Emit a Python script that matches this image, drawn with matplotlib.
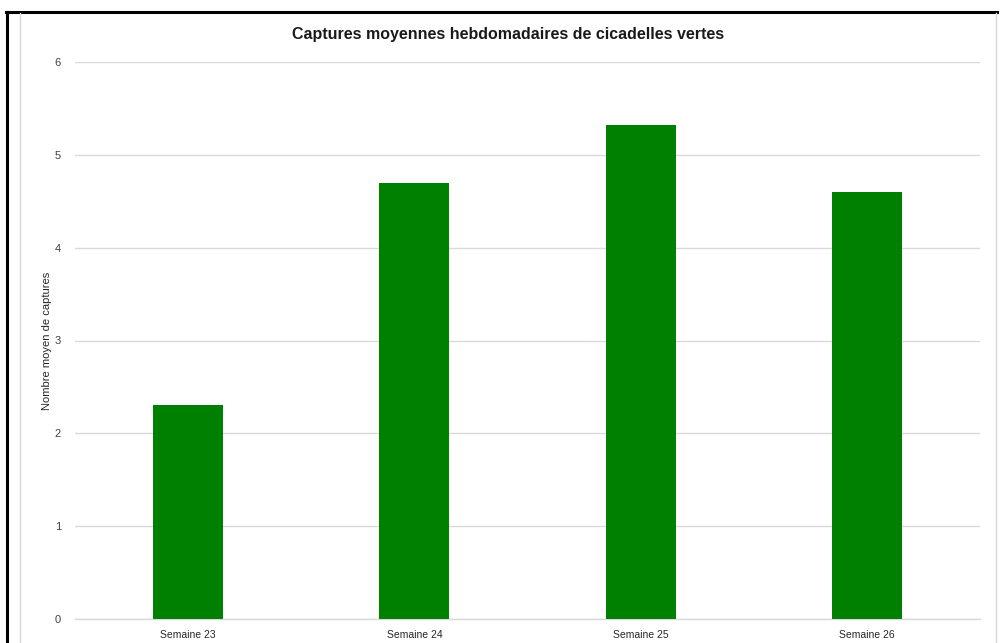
import matplotlib.pyplot as plt
from matplotlib.lines import Line2D

plt.rcParams['font.family'] = ['Liberation Sans', 'DejaVu Sans']

semaines = ['Semaine 23', 'Semaine 24', 'Semaine 25', 'Semaine 26']
captures = [2.3, 4.7, 5.32, 4.6]
yticks = [0, 1, 2, 3, 4, 5, 6]

W, H = 1001, 643
fig = plt.figure(figsize=(W / 100, H / 100), dpi=100)
ax = fig.add_axes([75 / W, 1 - 619 / H, 905 / W, 557 / H])

x = range(len(semaines))
ax.bar(x, captures, width=0.31, color='#008000', zorder=3)
ax.set_xlim(-0.5, len(semaines) - 0.5)
ax.set_ylim(0, 6)
ax.set_yticks(yticks)
ax.set_xticks(list(x))
ax.set_xticklabels(semaines, fontsize=7.5, color='#262626')
ax.tick_params(axis='y', labelsize=8, colors='#404040', length=0, pad=10)
ax.tick_params(axis='x', length=0, pad=8)
ax.grid(axis='y', color='#d9d9d9', linewidth=1, zorder=0)
ax.axhline(0, color='#d9d9d9', linewidth=1, zorder=1, clip_on=False)
for s in ax.spines.values():
    s.set_visible(False)
ax.set_ylabel('Nombre moyen de captures', fontsize=8, color='#262626')
ax.yaxis.set_label_coords((52 - 75) / 905, 0.5)

fig.text(508 / W, 1 - 34 / H, 'Captures moyennes hebdomadaires de cicadelles vertes',
         ha='center', va='center', fontsize=11.5, fontweight='bold', color='#1a1a1a')

# frame
def px(xp, yp):
    return xp / W, 1 - yp / H

for (x0, y0), (x1, y1), c, lw in [
    ((7, 12), (7, 643), 'black', 2.2),
    ((6, 12), (997, 12), 'black', 2.2),
    ((20, 13), (20, 643), '#d9d9d9', 1),
    ((996, 13), (996, 643), '#d9d9d9', 1),
]:
    a, b = px(x0, y0)
    c2, d = px(x1, y1)
    fig.add_artist(Line2D([a, c2], [b, d], color=c, linewidth=lw, transform=fig.transFigure))

fig.savefig('out.png', dpi=100, facecolor='white')
